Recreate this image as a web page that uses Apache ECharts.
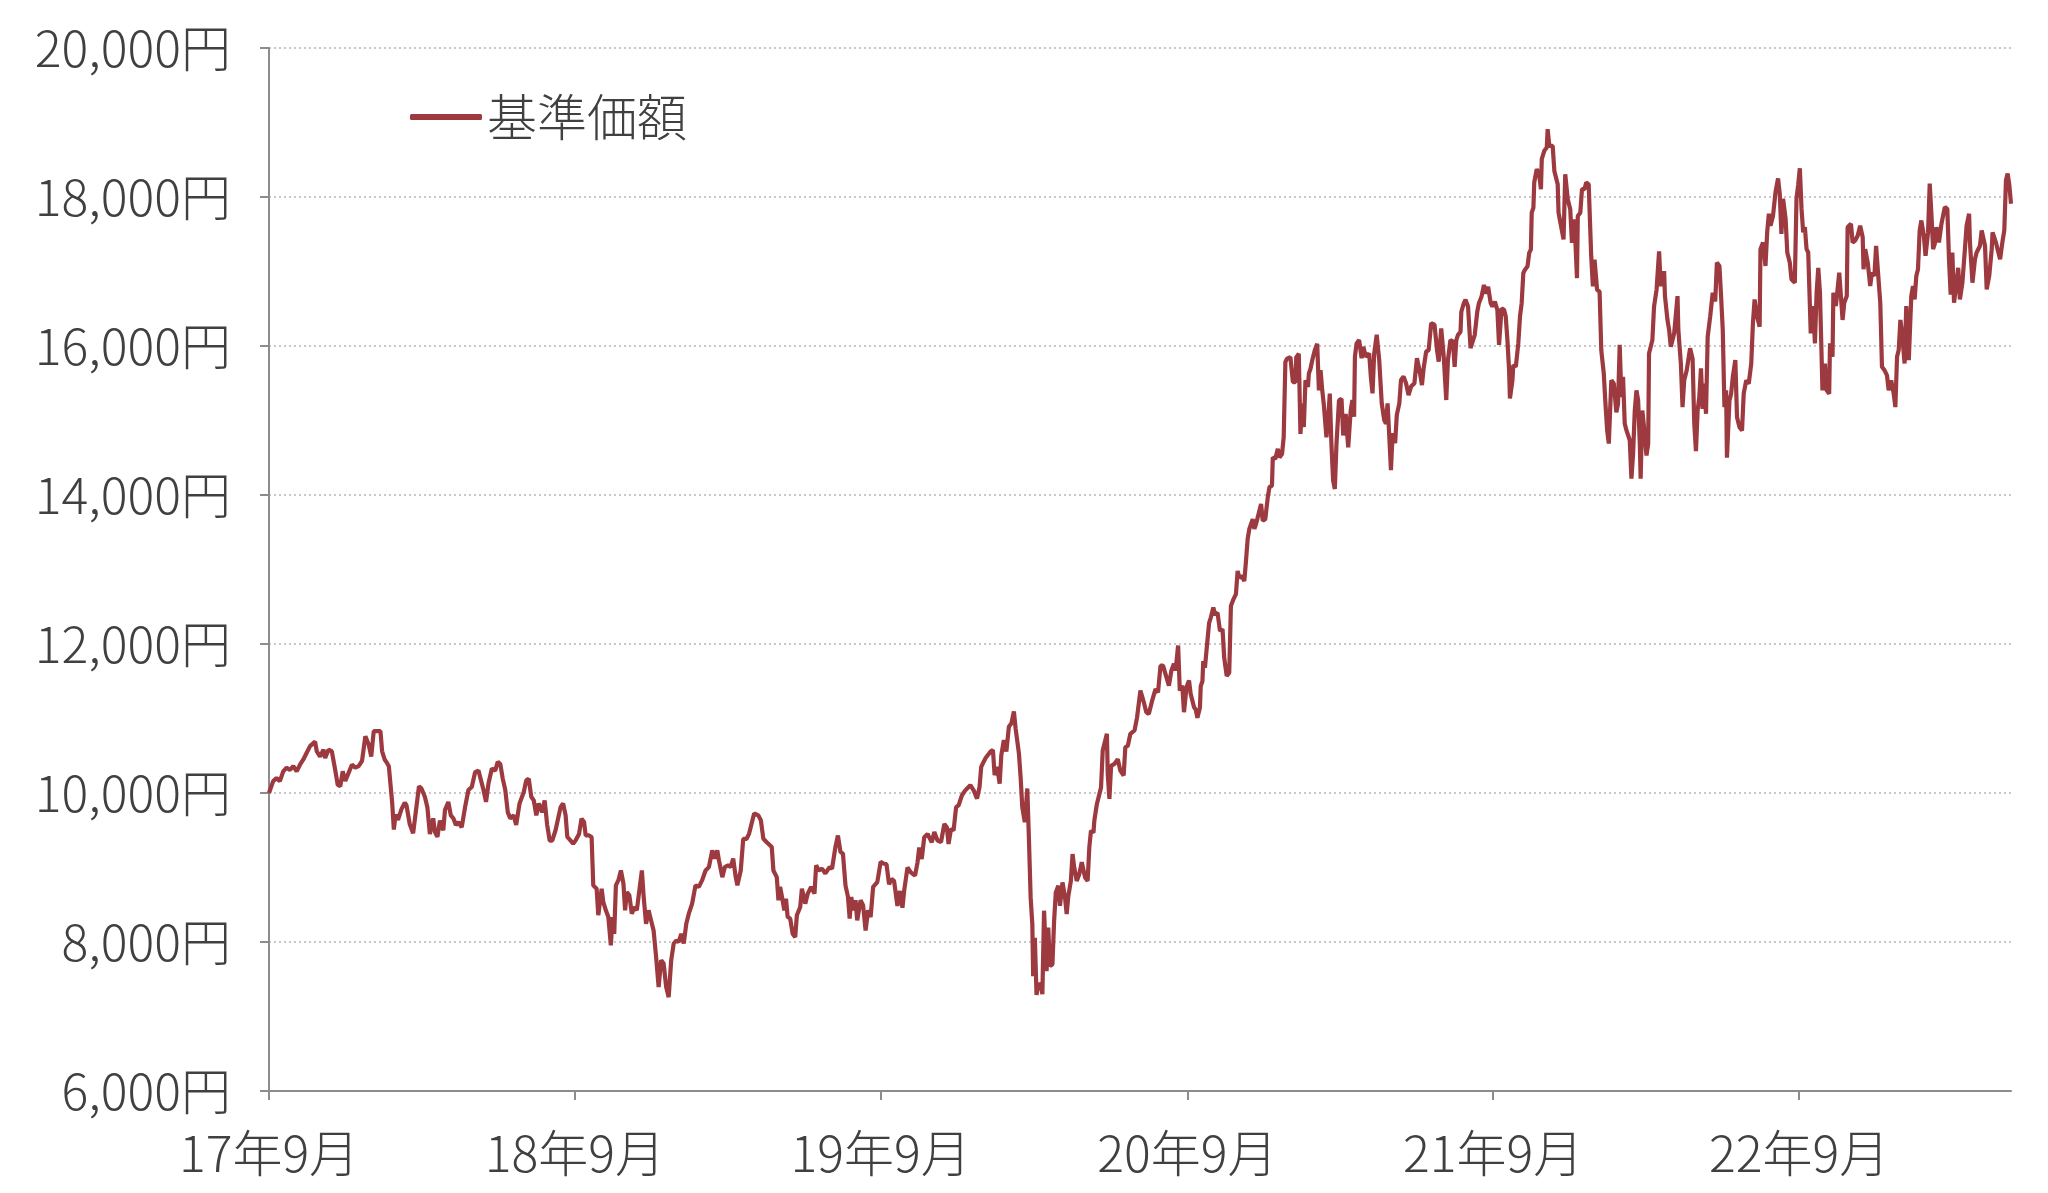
<!DOCTYPE html>
<html><head><meta charset="utf-8">
<script src="https://cdn.jsdelivr.net/npm/echarts@6/dist/echarts.min.js"></script>
<style>html,body{margin:0;padding:0;background:#fff}#c{width:2048px;height:1193px}</style>
</head><body><div id="c"></div>
<script>
// Dates are day numbers counted from startDate (2017-09-01); values are 基準価額 in 円.
const startDate = [2017, 9, 1];
const seriesName = '基準価額';
const tickDates = ['2017-09-01','2018-09-01','2019-09-01','2020-09-01','2021-09-01','2022-09-01'];
const yTicks = [6000, 8000, 10000, 12000, 14000, 16000, 18000, 20000];

const nav2017 = [[0,10000],[5,10160],[9,10200],[13,10160],[17,10290],[21,10340],[25,10310],[29,10360],[33,10290],[37,10380],[41,10450],[45,10540],[49,10630],[55,10690],[57,10560],[61,10490],[65,10580],[67,10470],[71,10580],[75,10560],[79,10310],[82,10110],[85,10090],[88,10290],[91,10160],[95,10270],[99,10380],[103,10340],[107,10360],[111,10430],[115,10760],[119,10650],[122,10490],[125,10830],[129,10830],[133,10830],[135,10560],[138,10450],[141,10400],[143,10360],[147,9870],[149,9510],[151,9710],[154,9640],[158,9780],[162,9870],[164,9840],[168,9580],[172,9460],[176,9820],[179,10090],
[182,10060],[186,9950],[189,9810],[192,9450],[196,9660],[198,9480],[201,9410],[204,9630],[208,9500],[210,9770],[214,9880],[217,9700],[220,9660],[223,9570],[226,9610],[230,9540],[234,9810],[238,10040],[242,10080],[246,10280],[250,10300],[253,10170],[256,10040],[259,9880],[262,10130],[266,10330],[270,10300],[273,10420],[276,10390],[279,10190],[282,10040],[285,9740],[288,9660],[292,9700],[295,9570],[299,9860],[304,10010],[307,10170],[310,10190],[313,9950],[316,9900],[319,9700],[322,9860],[326,9740],[329,9900],[332,9570],[335,9360],[338,9360],[342,9500],[344,9480],[348,9810],[351,9860],[354,9700],[356,9410],[360,9360],[363,9320]];

const nav2018 = [[366,9365],[370,9450],[373,9655],[376,9610],[378,9430],[382,9430],[385,9410],[387,8760],[391,8715],[393,8360],[397,8715],[399,8535],[402,8425],[405,8335],[408,7955],[410,8335],[412,8110],[414,8760],[417,8830],[420,8960],[423,8785],[425,8425],[427,8670],[430,8630],[433,8380],[436,8470],[439,8425],[442,8695],[445,8960],[447,8630],[450,8245],[453,8425],[456,8290],[459,8155],[462,7800],[465,7395],[468,7755],[471,7710],[474,7395],[477,7260],[480,7755],[483,7980],[486,8020],[489,8000],[492,8110],[495,7980],[498,8245],[501,8380],[505,8515],[509,8760],[513,8740],[517,8830],[521,8960],[525,9005],[529,9230],[532,9120],[535,9230],[537,9095],[541,8870],[544,9005],[548,9030],
[551,9005],[554,9120],[557,8870],[559,8760],[563,8960],[566,9385],[570,9385],[573,9455],[576,9590],[579,9725],[584,9700],[587,9635],[590,9385],[594,9340],[600,9275],[602,8960],[606,8870],[608,8560],[610,8740],[613,8560],[615,8425],[617,8580],[619,8335],[622,8315],[625,8110],[628,8065],[630,8360],[634,8470],[636,8715],[640,8515],[643,8650],[647,8740],[651,8650],[653,9030],[656,8960],[660,8985],[664,8920],[669,9005],[672,8985],[676,9275],[679,9430],[682,9210],[685,9185],[688,8760],[691,8605],[693,8315],[695,8605],[697,8425],[700,8560],[702,8290],[706,8560],[709,8495],[712,8155],[715,8425],[718,8335],[721,8740],[726,8805],[730,9075],[734,9050]];

const nav2019 = [[737,9045],[740,8775],[743,8845],[746,8820],[750,8485],[753,8685],[756,8460],[758,8685],[762,9000],[766,8935],[771,8890],[774,9070],[776,9270],[779,9115],[782,9405],[786,9450],[788,9430],[791,9340],[794,9475],[798,9360],[802,9340],[806,9585],[809,9540],[811,9315],[814,9520],[817,9495],[820,9810],[823,9835],[827,9970],[831,10035],[837,10105],[841,10035],[845,9925],[848,10080],[850,10350],[853,10420],[855,10465],[861,10555],[864,10575],[866,10240],[869,10350],[872,10125],[874,10510],[877,10710],[880,10555],[883,10890],[886,10935],[889,11095],[891,10870],[895,10530],[897,10215],[899,9810],[902,9610],[905,10060],[907,9360],[909,8595],[911,8235],[912,7540],[914,8055],[916,7290],[918,7425],
[921,7435],[923,7300],[925,8420],[928,7610],[930,8195],[932,7680],[935,7700],[937,8285],[939,8665],[942,8755],[944,8485],[947,8800],[950,8600],[952,8375],[954,8620],[957,8820],[959,9180],[961,9000],[964,8820],[967,8910],[970,9070],[972,9090],[974,8865],[977,8820],[979,9270],[981,9495],[984,9470],[985,9630],[988,9850],[991,9985],[993,10075],[995,10570],[997,10590],[1000,10795],[1001,10255],[1003,9920],[1005,10365],[1009,10390],[1013,10455],[1016,10300],[1020,10235],[1022,10615],[1025,10635],[1028,10795],[1033,10840],[1036,11015],[1040,11375],[1044,11220],[1047,11085],[1050,11060],[1054,11240],[1058,11395],[1061,11350],[1064,11710],[1067,11710],[1071,11555],[1074,11440],[1077,11645],[1080,11735],[1082,11645],[1085,11980],[1087,11375],[1090,11440],[1092,11085],[1095,11420],[1098,11510],[1100,11330],[1104,11150]];

const nav2020 = [[1106,11120],[1108,11010],[1111,11145],[1112,11435],[1114,11500],[1115,11770],[1117,11680],[1119,11930],[1121,11905],[1122,12285],[1124,12355],[1127,12490],[1129,12400],[1132,12420],[1135,12175],[1138,12200],[1140,11815],[1143,11570],[1146,11615],[1148,12510],[1151,12600],[1154,12670],[1156,12980],[1158,12890],[1161,12915],[1164,12845],[1166,13115],[1168,13410],[1170,13545],[1174,13675],[1176,13545],[1178,13610],[1181,13745],[1184,13880],[1186,13655],[1189,13675],[1192,13970],[1194,14105],[1197,14125],[1198,14505],[1201,14485],[1204,14620],[1206,14505],[1209,14550],[1211,14775],[1213,15785],[1215,15830],[1219,15850],[1222,15515],[1225,15515],[1226,15850],[1229,15895],[1231,14820],[1233,15225],[1235,14910],[1237,15540],[1240,15450],[1241,15630],[1243,15695],[1245,15805],[1248,15940],[1251,16030],[1253,15405],[1255,15675],[1257,15405],[1259,15200],[1262,14775],[1264,15000],[1266,15360],[1268,14665],[1270,14195],[1272,14080],[1274,14685],[1277,15270],[1280,15290],[1282,14800],[1285,15090],[1288,14640],
[1291,15140],[1293,15275],[1295,15050],[1296,15855],[1298,16035],[1301,16080],[1304,15835],[1306,15990],[1309,15855],[1313,15900],[1315,15590],[1317,15365],[1319,15900],[1322,16150],[1325,15810],[1328,15230],[1331,15005],[1333,14960],[1335,15230],[1337,14785],[1339,14335],[1341,14830],[1344,14695],[1346,15075],[1349,15230],[1351,15545],[1354,15590],[1357,15500],[1360,15340],[1363,15455],[1367,15500],[1370,15835],[1373,15680],[1376,15475],[1378,15700],[1381,15925],[1384,15945],[1387,16305],[1391,16285],[1394,15945],[1396,15790],[1399,16235],[1402,15855],[1405,15275],[1407,15810],[1410,16080],[1413,16060],[1415,15720],[1417,16080],[1419,16150],[1422,16190],[1423,16460],[1426,16575],[1428,16620],[1431,16530],[1434,15970],[1436,15990],[1439,16150],[1442,16460],[1444,16575],[1447,16660],[1450,16820],[1452,16705],[1455,16795],[1458,16575],[1460,16530],[1463,16595],[1466,16485],[1468,16015],[1471,16505],[1474,16485]];

const nav2021 = [[1476,16395],[1478,16080],[1480,15675],[1481,15295],[1484,15540],[1485,15745],[1488,15720],[1491,16035],[1493,16395],[1495,16575],[1497,16980],[1499,17025],[1502,17070],[1504,17250],[1506,17295],[1507,17790],[1509,17855],[1510,18195],[1513,18375],[1516,18285],[1518,18105],[1519,18510],[1522,18620],[1525,18665],[1526,18910],[1528,18685],[1532,18685],[1534,18350],[1536,18330],[1538,18170],[1539,17790],[1542,17610],[1545,17430],[1547,18305],[1550,17970],[1553,17835],[1555,17385],[1558,17700],[1561,16910],[1562,17745],[1565,17790],[1567,18105],[1570,18105],[1572,18195],[1575,18170],[1578,17205],[1580,16800],[1582,17160],[1585,16755],[1588,16730],[1590,15945],[1593,15630],[1595,15225],[1597,14870],[1599,14690],[1602,15540],[1605,15495],[1608,15110],[1610,15225],[1612,16015],[1614,15315],[1616,15585],[1618,14960],[1620,14870],[1624,14735],[1626,14220],[1628,14555],[1630,15135],[1632,15405],[1634,15270],[1636,14690],[1637,14220],[1639,15135],[1641,14915],[1644,14530],[1646,14690],[1647,15900],[1651,16080],[1653,16530],[1656,16755],[1659,17270],
[1661,16805],[1665,17005],[1666,16670],[1669,16350],[1671,16215],[1673,15990],[1677,16170],[1681,16670],[1682,16215],[1685,15765],[1687,15180],[1689,15540],[1692,15675],[1696,15970],[1699,15830],[1701,14955],[1703,14590],[1705,15130],[1707,15315],[1709,15700],[1711,15155],[1713,15495],[1715,15090],[1717,16125],[1720,16395],[1723,16715],[1726,16600],[1728,17120],[1731,17075],[1733,16670],[1735,16215],[1737,15180],[1739,15405],[1740,14500],[1743,15270],[1745,15360],[1747,15585],[1750,15810],[1752,15045],[1755,14910],[1758,14865],[1760,15360],[1763,15540],[1766,15495],[1769,15765],[1771,16305],[1773,16625],[1776,16395],[1779,16260],[1780,17300],[1783,17390],[1786,17075],[1788,17525],[1790,17775],[1792,17615],[1795,17750],[1798,18070],[1801,18250],[1803,18045],[1805,17505],[1807,17975],[1810,17705],[1812,17255],[1815,17120],[1817,16895],[1821,16850],[1823,17975],[1825,18160],[1827,18385],[1829,17840],[1831,17525],[1833,17595],[1835,17300],[1837,17255],[1840,16170],[1843,16535],[1845,16035]];

const nav2022 = [[1847,16715],[1849,17050],[1851,16715],[1854,15405],[1857,15765],[1859,15405],[1862,15360],[1863,16035],[1866,15855],[1867,16715],[1870,16535],[1872,16760],[1874,16985],[1876,16670],[1878,16350],[1880,16580],[1883,16670],[1884,17595],[1888,17640],[1890,17390],[1893,17415],[1896,17480],[1899,17615],[1902,17460],[1903,17030],[1905,17300],[1908,17120],[1911,16805],[1913,16985],[1916,16940],[1918,17345],[1920,17030],[1923,16580],[1925,15720],[1928,15675],[1931,15605],[1933,15405],[1936,15540],[1939,15360],[1941,15180],[1943,15855],[1945,15945],[1947,16350],[1949,16170],[1952,15765],[1954,16535],[1957,15810],[1960,16670],[1962,16805],[1964,16625],[1966,16940],[1968,17030],[1970,17550],[1972,17685],[1975,17480],[1977,17210],[1980,17525],[1982,18180],[1984,17775],[1986,17300],[1988,17370],[1990,17595],[1993,17390],[1996,17640],[2000,17865],[2003,17840],[2005,17165],[2007,16690],[2009,17255],[2011,16580],[2014,16850],[2016,17050],[2018,16625],[2021,16850],[2024,17300],[2026,17615],[2029,17775],[2030,17390],[2033,16850],[2036,17165],[2038,17255],[2042,17345],[2044,17550],[2048,17345],[2050,16760],[2053,16940],[2056,17300],[2057,17525],[2061,17390],[2063,17300],[2066,17165],[2069,17415],[2071,17550],[2073,18225],[2075,18315],[2077,18160],[2079,17910]];

const DAY_MS = 86400000;
const startTime = Date.UTC(startDate[0], startDate[1] - 1, startDate[2]);
function dateToDay(s) { const p = s.split('-').map(Number); return Math.round((Date.UTC(p[0], p[1] - 1, p[2]) - startTime) / DAY_MS); }
function dayToLabel(d) { const t = new Date(startTime + Math.round(d) * DAY_MS); return (t.getUTCFullYear() % 100) + '年' + (t.getUTCMonth() + 1) + '月'; }

const seriesData = [].concat(nav2017, nav2018, nav2019, nav2020, nav2021, nav2022);
const tickDays = tickDates.map(dateToDay);

const FONT = '"Noto Sans CJK JP", "Noto Sans", sans-serif';
const TXT = '#404040';
const AXIS = '#8c8c8c';
const W = 300;
const FS = 50;

const chart = echarts.init(document.getElementById('c'), null, { renderer: 'canvas' });
chart.setOption({
  animation: false,
  backgroundColor: '#ffffff',
  textStyle: { fontFamily: FONT },
  grid: { left: 269, right: 37, top: 48, bottom: 102 },
  legend: {
    data: [seriesName],
    left: 405, top: 87,
    icon: 'roundRect', itemWidth: 72, itemHeight: 6, itemGap: 10,
    textStyle: { fontSize: FS, color: TXT, fontFamily: FONT, fontWeight: W }
  },
  xAxis: {
    type: 'value',
    min: tickDays[0],
    max: 'dataMax',
    splitLine: { show: false },
    axisLine: { show: true, onZero: false, lineStyle: { color: AXIS, width: 2 } },
    axisTick: { show: true, customValues: tickDays, length: 9, lineStyle: { color: AXIS, width: 2 } },
    axisLabel: {
      customValues: tickDays,
      fontSize: FS, color: TXT, fontFamily: FONT, fontWeight: W, margin: 37,
      formatter: function (v) { return dayToLabel(v); }
    }
  },
  yAxis: {
    type: 'value',
    min: yTicks[0], max: yTicks[yTicks.length - 1], interval: yTicks[1] - yTicks[0],
    axisLine: { show: true, lineStyle: { color: AXIS, width: 2 } },
    axisTick: { show: true, length: 9, lineStyle: { color: AXIS, width: 2 } },
    axisLabel: {
      fontSize: FS, color: TXT, fontFamily: FONT, fontWeight: W, margin: 38,
      formatter: function (v) { return v.toLocaleString('en-US') + '円'; }
    },
    splitLine: { show: true, lineStyle: { color: '#c8c8c8', width: 2, type: [2, 3] } }
  },
  series: [{
    name: seriesName,
    type: 'line',
    data: seriesData,
    showSymbol: false,
    symbol: 'none',
    lineStyle: { color: '#9c3a40', width: 4.2 },
    itemStyle: { color: '#9c3a40' }
  }]
});
</script>
</body></html>
